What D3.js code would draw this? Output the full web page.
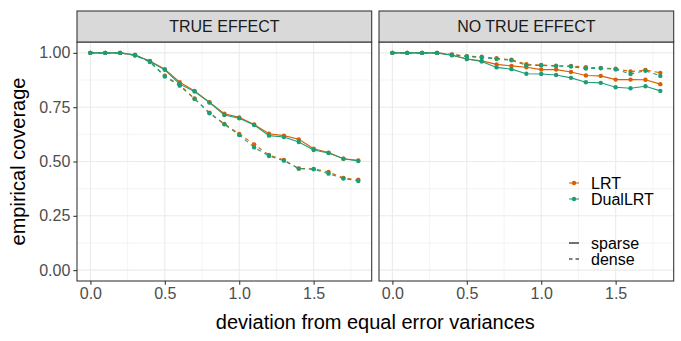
<!DOCTYPE html>
<html lang="en">
<head>
<meta charset="UTF-8">
<title>empirical coverage</title>
<style>
  body { margin: 0; background: #fff; }
  text { font-family: "Liberation Sans", Arial, sans-serif; }
  .grid-major { stroke: #ebebeb; stroke-width: 1.07; }
  .grid-minor { stroke: #ebebeb; stroke-width: 0.53; }
</style>
</head>
<body>
<svg id="chart" width="681" height="341"></svg>
<script src="https://d3js.org/d3.v7.min.js"></script>
<script>
// deviation values (x axis)
const deviations = [0, 0.1, 0.2, 0.3, 0.4, 0.5, 0.6, 0.7, 0.8, 0.9, 1.0, 1.1, 1.2, 1.3, 1.4, 1.5, 1.6, 1.7, 1.8];

const panels = ["TRUE EFFECT", "NO TRUE EFFECT"];
const methods = ["LRT", "DualLRT"];
const designs = ["sparse", "dense"];

// TRUE EFFECT panel
const trueLrtSparse  = [1, 1, 1, 0.99, 0.963, 0.925, 0.865, 0.825, 0.773, 0.72, 0.703, 0.67, 0.628, 0.619, 0.602, 0.559, 0.541, 0.513, 0.505];
const trueDualSparse = [1, 1, 1, 0.99, 0.96, 0.922, 0.856, 0.822, 0.771, 0.714, 0.699, 0.668, 0.619, 0.613, 0.59, 0.553, 0.539, 0.513, 0.502];
const trueLrtDense   = [1, 1, 1, 0.99, 0.96, 0.895, 0.852, 0.79, 0.725, 0.673, 0.627, 0.579, 0.53, 0.507, 0.468, 0.466, 0.452, 0.424, 0.416];
const trueDualDense  = [1, 1, 1, 0.988, 0.958, 0.891, 0.849, 0.788, 0.722, 0.671, 0.622, 0.565, 0.525, 0.504, 0.467, 0.464, 0.444, 0.422, 0.41];

// NO TRUE EFFECT panel
const nullLrtSparse  = [1, 1, 1, 1, 0.99, 0.972, 0.963, 0.947, 0.94, 0.934, 0.923, 0.923, 0.912, 0.896, 0.894, 0.877, 0.877, 0.876, 0.856];
const nullDualSparse = [1, 1, 1, 1, 0.989, 0.972, 0.96, 0.933, 0.925, 0.904, 0.903, 0.898, 0.885, 0.865, 0.862, 0.842, 0.837, 0.846, 0.825];
const nullLrtDense   = [1, 1, 1, 1, 0.993, 0.985, 0.982, 0.975, 0.968, 0.948, 0.944, 0.941, 0.94, 0.934, 0.93, 0.927, 0.914, 0.921, 0.908];
const nullDualDense  = [1, 1, 1, 1, 0.992, 0.983, 0.979, 0.972, 0.966, 0.943, 0.942, 0.939, 0.937, 0.928, 0.929, 0.924, 0.903, 0.918, 0.894];

const xTicks = [0, 0.5, 1.0, 1.5];
const yTicks = [0, 0.25, 0.5, 0.75, 1.0];

const colors = { LRT: "#d95f02", DualLRT: "#1b9e77" };
const dashes = { sparse: null, dense: "4,4" };

const seriesByPanel = {
  "TRUE EFFECT": [
    { method: "LRT", design: "sparse", values: trueLrtSparse },
    { method: "LRT", design: "dense", values: trueLrtDense },
    { method: "DualLRT", design: "sparse", values: trueDualSparse },
    { method: "DualLRT", design: "dense", values: trueDualDense }
  ],
  "NO TRUE EFFECT": [
    { method: "LRT", design: "sparse", values: nullLrtSparse },
    { method: "LRT", design: "dense", values: nullLrtDense },
    { method: "DualLRT", design: "sparse", values: nullDualSparse },
    { method: "DualLRT", design: "dense", values: nullDualDense }
  ]
};

const svg = d3.select("#chart");
const panelLeft = 77, panelTop = 42, panelBottom = 281, stripTop = 11;
const panelW = 294.7, gap = 7.3;

const y = d3.scaleLinear().domain([-0.05, 1.05]).range([panelBottom, panelTop]);

panels.forEach((name, i) => {
  const x0 = panelLeft + i * (panelW + gap);
  const x = d3.scaleLinear().domain([-0.09, 1.89]).range([x0, x0 + panelW]);
  const g = svg.append("g");

  // minor grid
  const xMinor = [0.25, 0.75, 1.25, 1.75];
  const yMinor = [0.125, 0.375, 0.625, 0.875];
  g.selectAll(".vminor").data(xMinor).join("line").attr("class", "grid-minor")
    .attr("x1", d => x(d)).attr("x2", d => x(d)).attr("y1", panelTop).attr("y2", panelBottom);
  g.selectAll(".hminor").data(yMinor).join("line").attr("class", "grid-minor")
    .attr("x1", x0).attr("x2", x0 + panelW).attr("y1", d => y(d)).attr("y2", d => y(d));
  // major grid
  g.selectAll(".vmajor").data(xTicks).join("line").attr("class", "grid-major")
    .attr("x1", d => x(d)).attr("x2", d => x(d)).attr("y1", panelTop).attr("y2", panelBottom);
  g.selectAll(".hmajor").data(yTicks).join("line").attr("class", "grid-major")
    .attr("x1", x0).attr("x2", x0 + panelW).attr("y1", d => y(d)).attr("y2", d => y(d));

  // series
  const line = d3.line().x((d, j) => x(deviations[j])).y(d => y(d));
  seriesByPanel[name].forEach(s => {
    g.append("path").attr("d", line(s.values))
      .attr("fill", "none").attr("stroke", colors[s.method])
      .attr("stroke-width", 1.1).attr("stroke-dasharray", dashes[s.design]);
    g.selectAll(null).data(s.values).join("circle")
      .attr("cx", (d, j) => x(deviations[j])).attr("cy", d => y(d))
      .attr("r", 2.2).attr("fill", colors[s.method]);
  });

  // panel border
  g.append("rect").attr("x", x0).attr("y", panelTop).attr("width", panelW)
    .attr("height", panelBottom - panelTop).attr("fill", "none").attr("stroke", "#333").attr("stroke-width", 1.07);

  // strip
  g.append("rect").attr("x", x0).attr("y", stripTop).attr("width", panelW)
    .attr("height", panelTop - stripTop).attr("fill", "#d9d9d9").attr("stroke", "#333").attr("stroke-width", 1.07);
  g.append("text").attr("x", x0 + panelW / 2).attr("y", (stripTop + panelTop) / 2)
    .attr("dy", "0.35em").attr("text-anchor", "middle").attr("fill", "#1a1a1a")
    .attr("font-size", 16).text(name);

  // x axis
  const xAxis = g.append("g").attr("transform", `translate(0,${panelBottom})`)
    .call(d3.axisBottom(x).tickValues(xTicks).tickFormat(d3.format(".1f")).tickSizeOuter(0).tickSize(3.7).tickPadding(3));
  xAxis.select(".domain").remove();
  xAxis.selectAll("line").attr("stroke", "#333").attr("stroke-width", 1.07);
  xAxis.selectAll("text").attr("fill", "#4d4d4d").attr("font-size", 16).style("font-family", "Liberation Sans, Arial, sans-serif");

  if (i === 0) {
    const yAxis = g.append("g").attr("transform", `translate(${x0},0)`)
      .call(d3.axisLeft(y).tickValues(yTicks).tickFormat(d3.format(".2f")).tickSizeOuter(0).tickSize(3.7).tickPadding(3));
    yAxis.select(".domain").remove();
    yAxis.selectAll("line").attr("stroke", "#333").attr("stroke-width", 1.07);
    yAxis.selectAll("text").attr("fill", "#4d4d4d").attr("font-size", 16).style("font-family", "Liberation Sans, Arial, sans-serif");
  }
});

// axis titles
svg.append("text").attr("x", panelLeft + panelW + gap / 2).attr("y", 329)
  .attr("text-anchor", "middle").attr("font-size", 20).attr("fill", "#000")
  .text("deviation from equal error variances");
svg.append("text").attr("transform", `translate(25,${(panelTop + panelBottom) / 2}) rotate(-90)`)
  .attr("text-anchor", "middle").attr("font-size", 20).attr("fill", "#000")
  .text("empirical coverage");

// legends
const legend = svg.append("g").attr("transform", "translate(569,0)");
const colorRows = legend.selectAll(".crow").data(methods).join("g")
  .attr("transform", (d, j) => `translate(0,${183 + j * 16})`);
colorRows.append("line").attr("x1", 0).attr("x2", 10).attr("stroke", d => colors[d]).attr("stroke-width", 1.1);
colorRows.append("circle").attr("cx", 5).attr("r", 2.2).attr("fill", d => colors[d]);
colorRows.append("text").attr("x", 22).attr("dy", "0.35em").attr("font-size", 16).attr("fill", "#000").text(d => d);

const typeRows = legend.selectAll(".trow").data(designs).join("g")
  .attr("transform", (d, j) => `translate(0,${243 + j * 16})`);
typeRows.append("line").attr("x1", 0).attr("x2", 10).attr("stroke", "#000").attr("stroke-width", 1.1)
  .attr("stroke-dasharray", d => d === "dense" ? "3.5,3" : null);
typeRows.append("text").attr("x", 22).attr("dy", "0.35em").attr("font-size", 16).attr("fill", "#000").text(d => d);
</script>
</body>
</html>
